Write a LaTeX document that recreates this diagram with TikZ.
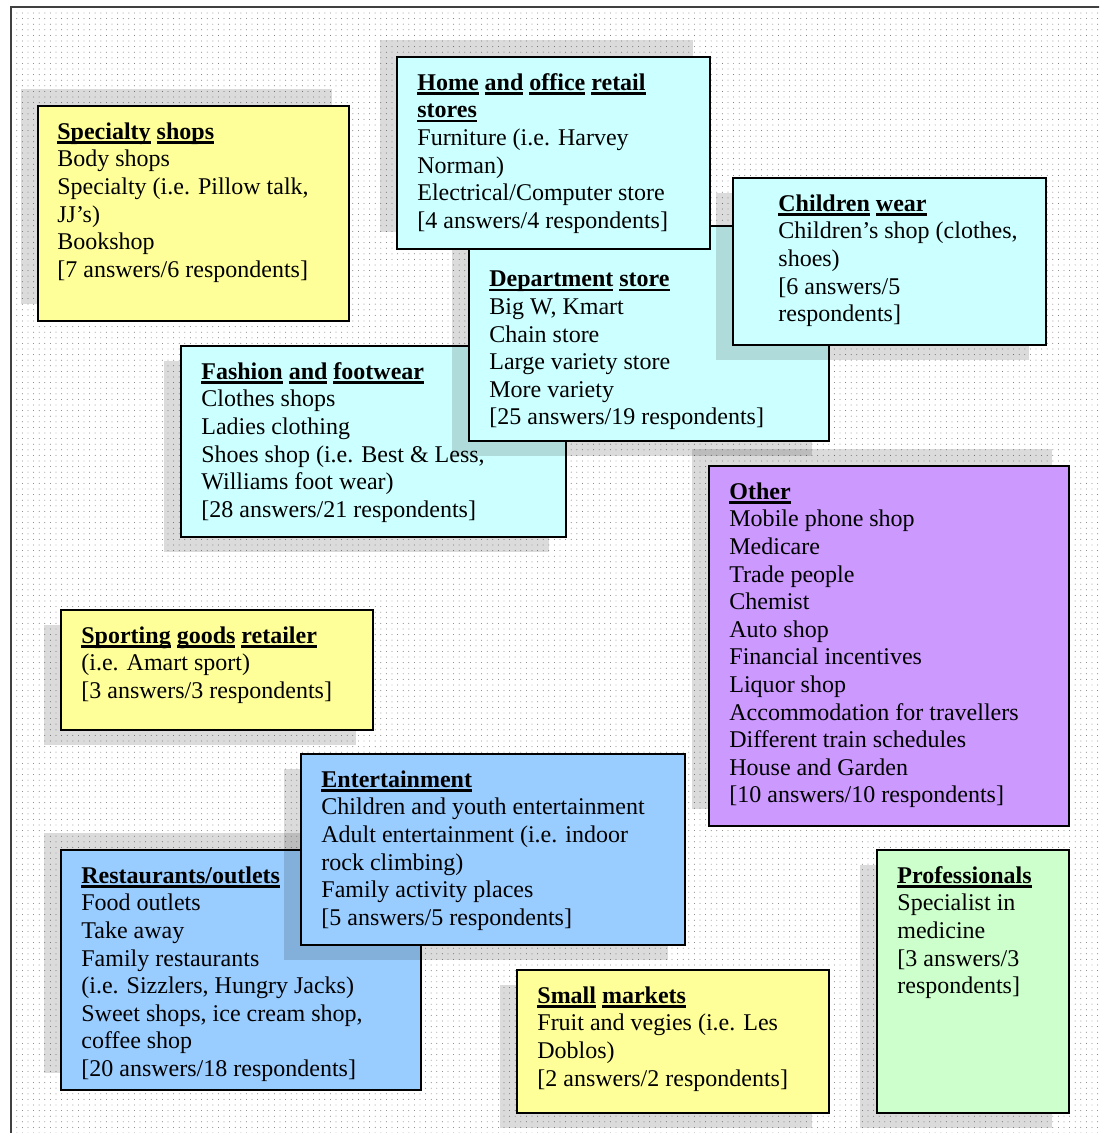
\documentclass[tikz,border=0pt]{standalone}
\usepackage{fontspec}
\setmainfont{Liberation Serif}
\usetikzlibrary{patterns,positioning}

% Sparse dot background, as in the scanned page
\pgfdeclarepatternformonly{sparsedots}{\pgfqpoint{-0.5pt}{-0.5pt}}{\pgfqpoint{0.5pt}{0.5pt}}{\pgfqpoint{2.8pt}{2.8pt}}{%
	\pgfpathcircle{\pgfqpoint{0pt}{0pt}}{0.24pt}\pgfusepath{fill}}

\definecolor{lightyellow}{RGB}{255,255,153}
\definecolor{lightcyan}{RGB}{204,255,255}
\definecolor{skyblue}{RGB}{153,204,255}
\definecolor{lilac}{RGB}{204,153,255}
\definecolor{mint}{RGB}{204,255,204}

% Bold heading words, each underlined on its own
\newsavebox{\headbox}
\newcommand{\uword}[1]{\sbox{\headbox}{#1}\rlap{\rule[-2.1pt]{\wd\headbox}{1.2pt}}\usebox{\headbox}}

\begin{document}
\begin{tikzpicture}[x = 0.5pt, y = -0.5pt,
	catbox/.style = {draw, line width = 1pt, inner sep = 0pt, anchor = north west},
	entry/.style = {align = left, inner sep = 0pt, font = \fontsize{12pt}{13.8pt}\selectfont},
	shade/.style = {fill = black, fill opacity = 0.14}]

	% Page

	\useasboundingbox (0, 0) rectangle (1099, 1133);
	\clip (0, 0) rectangle (1099, 1133);

	\fill [pattern = sparsedots, pattern color = black!60] (11, 7) rectangle (1099, 1133);
	\draw [line width = 1pt, black!75] (11, 1140) -- (11, 7) -- (1110, 7);

	% Specialty shops

	\fill [shade] (21, 89) rectangle ++(311, 215);
	\node [catbox, fill = lightyellow, minimum width = 155.5pt, minimum height = 107.5pt] (specialty) at (37, 105) {};
	\node [entry, below right = 7.3pt and 10pt of specialty.north west] (specialty-text)
		{\strut\textbf{\uword{Specialty} \uword{shops}}\\ Body shops\\ Specialty (i.e. Pillow talk,\\ JJ's)\\ Bookshop\\ {[}7 answers/6 respondents]};

	% Fashion and footwear

	\fill [shade] (164, 361) rectangle ++(385, 191);
	\node [catbox, fill = lightcyan, minimum width = 192.5pt, minimum height = 95.5pt] (fashion) at (180, 345) {};
	\node [entry, below right = 7.3pt and 10.5pt of fashion.north west] (fashion-text)
		{\strut\textbf{\uword{Fashion} \uword{and} \uword{footwear}}\\ Clothes shops\\ Ladies clothing\\ Shoes shop (i.e. Best \& Less,\\ Williams foot wear)\\ {[}28 answers/21 respondents]};

	% Department store

	\fill [shade] (452, 241) rectangle ++(360, 215);
	\node [catbox, fill = lightcyan, minimum width = 180pt, minimum height = 107.5pt] (department) at (468, 225) {};
	\node [entry, below right = 21.1pt and 10.5pt of department.north west] (department-text)
		{\strut\textbf{\uword{Department} \uword{store}}\\ Big W, Kmart\\ Chain store\\ Large variety store\\ More variety\\ {[}25 answers/19 respondents]};

	% Home and office retail stores

	\fill [shade] (380, 40) rectangle ++(313, 192);
	\node [catbox, fill = lightcyan, minimum width = 156.5pt, minimum height = 96pt] (home) at (396, 56) {};
	\node [entry, below right = 7.3pt and 10.5pt of home.north west] (home-text)
		{\strut\textbf{\uword{Home} \uword{and} \uword{office} \uword{retail}}\\ \textbf{\uword{stores}}\\ Furniture (i.e. Harvey\\ Norman)\\ Electrical/Computer store\\ {[}4 answers/4 respondents]};

	% Children wear

	\fill [shade] (716, 193) rectangle ++(313, 167);
	\node [catbox, fill = lightcyan, minimum width = 156.5pt, minimum height = 83.5pt] (children) at (732, 177) {};
	\node [entry, below right = 7.3pt and 23pt of children.north west] (children-text)
		{\strut\textbf{\uword{Children} \uword{wear}}\\ Children's shop (clothes,\\ shoes)\\ {[}6 answers/5\\ respondents]};

	% Other

	\fill [shade] (692, 449) rectangle ++(360, 360);
	\node [catbox, fill = lilac, minimum width = 180pt, minimum height = 180pt] (other) at (708, 465) {};
	\node [entry, below right = 7.3pt and 10.5pt of other.north west] (other-text)
		{\strut\textbf{\uword{Other}}\\ Mobile phone shop\\ Medicare\\ Trade people\\ Chemist\\ Auto shop\\ Financial incentives\\ Liquor shop\\ Accommodation for travellers\\ Different train schedules\\ House and Garden\\ {[}10 answers/10 respondents]};

	% Sporting goods retailer

	\fill [shade] (44, 625) rectangle ++(312, 120);
	\node [catbox, fill = lightyellow, minimum width = 156pt, minimum height = 60pt] (sporting) at (60, 609) {};
	\node [entry, below right = 7.3pt and 10.5pt of sporting.north west] (sporting-text)
		{\strut\textbf{\uword{Sporting} \uword{goods} \uword{retailer}}\\ (i.e. Amart sport)\\ {[}3 answers/3 respondents]};

	% Restaurants/outlets

	\fill [shade] (44, 833) rectangle ++(360, 240);
	\node [catbox, fill = skyblue, minimum width = 180pt, minimum height = 120pt] (restaurants) at (60, 849) {};
	\node [entry, below right = 7.3pt and 10.5pt of restaurants.north west] (restaurants-text)
		{\strut\textbf{\uword{Restaurants/outlets}}\\ Food outlets\\ Take away\\ Family restaurants\\ (i.e. Sizzlers, Hungry Jacks)\\ Sweet shops, ice cream shop,\\ coffee shop\\ {[}20 answers/18 respondents]};

	% Entertainment

	\fill [shade] (284, 769) rectangle ++(384, 191);
	\node [catbox, fill = skyblue, minimum width = 192pt, minimum height = 95.5pt] (entertainment) at (300, 753) {};
	\node [entry, below right = 7.3pt and 10.5pt of entertainment.north west] (entertainment-text)
		{\strut\textbf{\uword{Entertainment}}\\ Children and youth entertainment\\ Adult entertainment (i.e. indoor\\ rock climbing)\\ Family activity places\\ {[}5 answers/5 respondents]};

	% Small markets

	\fill [shade] (500, 985) rectangle ++(312, 143);
	\node [catbox, fill = lightyellow, minimum width = 156pt, minimum height = 71.5pt] (markets) at (516, 969) {};
	\node [entry, below right = 7.3pt and 10.5pt of markets.north west] (markets-text)
		{\strut\textbf{\uword{Small} \uword{markets}}\\ Fruit and vegies (i.e. Les\\ Doblos)\\ {[}2 answers/2 respondents]};

	% Professionals

	\fill [shade] (860, 865) rectangle ++(192, 263);
	\node [catbox, fill = mint, minimum width = 96pt, minimum height = 131.5pt] (professionals) at (876, 849) {};
	\node [entry, below right = 7.3pt and 10.5pt of professionals.north west] (professionals-text)
		{\strut\textbf{\uword{Professionals}}\\ Specialist in\\ medicine\\ {[}3 answers/3\\ respondents]};

\end{tikzpicture}
\end{document}
